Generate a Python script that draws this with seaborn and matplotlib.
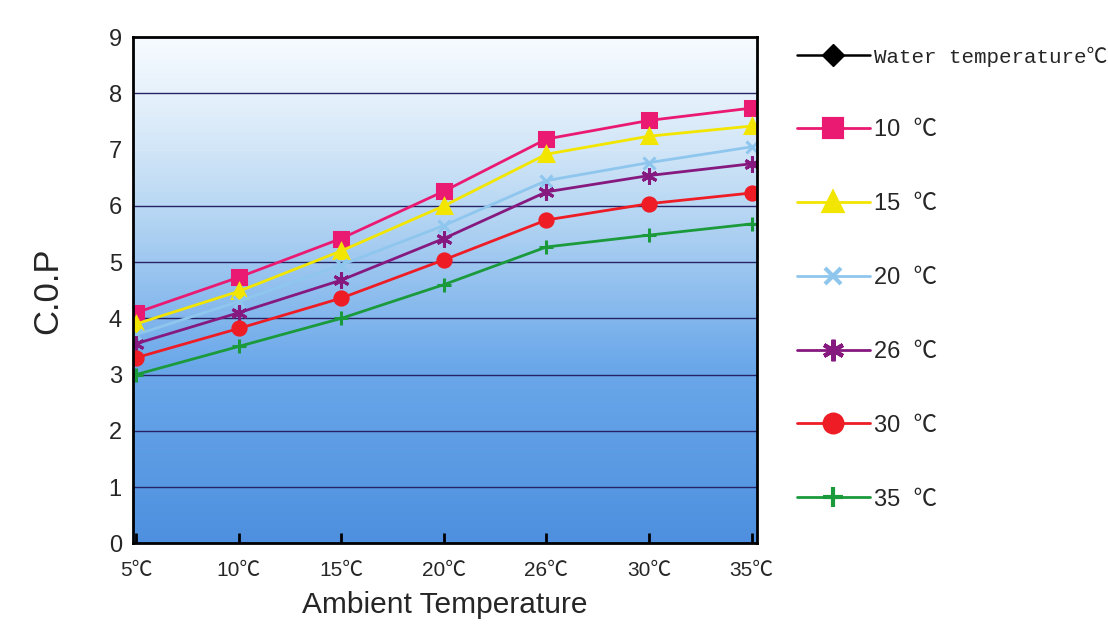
import numpy as np
import pandas as pd
import matplotlib
matplotlib.use("Agg")
import matplotlib.pyplot as plt
from matplotlib.colors import LinearSegmentedColormap
from matplotlib.lines import Line2D
import seaborn as sns

# ---- data ----
ambient = ["5℃", "10℃", "15℃", "20℃", "26℃", "30℃", "35℃"]
water_labels = ["10  ℃", "15  ℃", "20  ℃", "26  ℃", "30  ℃", "35  ℃"]
cop_10 = [4.10, 4.73, 5.42, 6.26, 7.19, 7.52, 7.74]
cop_15 = [3.90, 4.48, 5.20, 6.00, 6.92, 7.24, 7.42]
cop_20 = [3.71, 4.30, 4.95, 5.65, 6.45, 6.77, 7.05]
cop_26 = [3.55, 4.10, 4.68, 5.42, 6.25, 6.54, 6.75]
cop_30 = [3.30, 3.82, 4.36, 5.04, 5.75, 6.04, 6.23]
cop_35 = [3.00, 3.50, 4.00, 4.60, 5.27, 5.48, 5.68]
yticks = [0, 1, 2, 3, 4, 5, 6, 7, 8, 9]

series = [cop_10, cop_15, cop_20, cop_26, cop_30, cop_35]
colors = ["#ea1a72", "#f2e600", "#8fc6ee", "#86197f", "#ee1c24", "#1b9a3c"]
markers = ["s", "^", "x", (6, 2, 0), "o", "+"]
msizes = [9.5, 9.5, 8.5, 11.5, 9.5, 10.5]

sns.set_theme(style="white")
plt.rcParams["font.family"] = ["Liberation Sans", "Noto Sans CJK SC", "DejaVu Sans"]

fig = plt.figure(figsize=(11.08, 6.31), dpi=100)
ax = fig.add_axes([0.12, 0.139, 0.563, 0.802])

# gradient background
cmap = LinearSegmentedColormap.from_list(
    "bg", [(0.0, "#4e90df"), (0.35, "#6ba8ea"), (0.65, "#b6d6f3"),
           (0.85, "#e0eefa"), (1.0, "#f7fbff")])
grad = np.linspace(0, 1, 256).reshape(-1, 1)
ax.imshow(grad, aspect="auto", cmap=cmap, origin="lower",
          extent=[-0.05, 6.05, 0, 9], zorder=0)

for yv in yticks:
    if yv in (0, 9):
        continue
    col = "#d6e7f7" if yv == 7 else "#262266"
    ax.axhline(yv, color=col, lw=1.0, zorder=1)

for lab, vals, c, m, ms in zip(water_labels, series, colors, markers, msizes):
    d = pd.DataFrame({"pos": range(len(ambient)), "cop": vals})
    sns.lineplot(data=d, x="pos", y="cop", color=c, marker=m,
                 markersize=ms, markeredgewidth=2.2, markeredgecolor=c,
                 linewidth=2.0, ax=ax, zorder=3)

ax.set_xlim(-0.03, 6.05)
ax.set_ylim(0, 9)
ax.set_xticks(range(len(ambient)))
ax.set_xticklabels(ambient, fontsize=15)
ax.set_yticks(yticks)
ax.set_yticklabels([str(t) for t in yticks], fontsize=17)
ax.tick_params(axis="x", direction="in", length=7, width=2, color="black",
               pad=13, bottom=True)
ax.tick_params(axis="y", length=0, pad=8)
for s in ax.spines.values():
    s.set_color("black")
    s.set_linewidth(2)
    s.set_zorder(5)

ax.set_xlabel("Ambient Temperature", fontsize=21.5, labelpad=8)
ax.set_ylabel("C.0.P", fontsize=25, labelpad=32)

handles = [Line2D([], [], color="black", marker="D", markersize=11, lw=1.8)]
for c, m, ms in zip(colors, markers, msizes):
    handles.append(Line2D([], [], color=c, marker=m, markersize=ms * 1.35,
                          lw=2.0, markeredgewidth=3))
labels = ["Water temperature℃"] + water_labels
leg = fig.legend(handles, labels, loc="upper left",
                 bbox_to_anchor=(0.700, 0.96), frameon=False,
                 fontsize=17, handlelength=3.1, handletextpad=0.15,
                 labelspacing=2.2)
leg.get_texts()[0].set_family(["Liberation Mono", "Noto Sans CJK SC"])
leg.get_texts()[0].set_fontsize(15)

fig.savefig("out.png", dpi=100, facecolor="white")
